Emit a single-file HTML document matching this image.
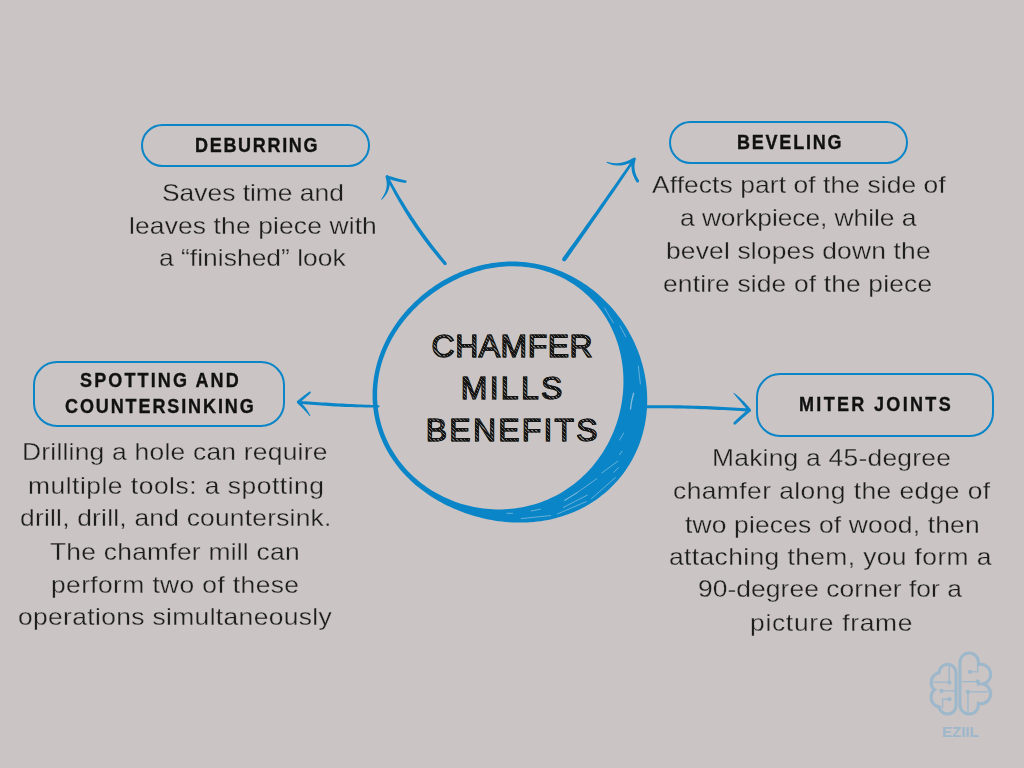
<!DOCTYPE html>
<html><head><meta charset="utf-8">
<style>
html,body{margin:0;padding:0;}
body{width:1024px;height:768px;overflow:hidden;background:#cac4c4;position:relative;font-family:"Liberation Sans",sans-serif;}
.pill{position:absolute;box-sizing:border-box;border:2px solid #0a85c8;border-radius:24px;}
.h{position:absolute;white-space:nowrap;font-weight:bold;font-size:20px;color:#111;line-height:20px;-webkit-text-stroke:0.35px #111;}
.d{position:absolute;white-space:nowrap;font-size:24px;color:#1c1c1c;line-height:24px;-webkit-text-stroke:0.3px #cac4c4;}
.t{position:absolute;white-space:nowrap;font-size:32px;line-height:32px;color:transparent;-webkit-text-stroke:1.1px #141414;background:repeating-linear-gradient(45deg,#141414 0px,#141414 1.7px,#8a8686 1.7px,#8a8686 2.7px);-webkit-background-clip:text;background-clip:text;}
svg{position:absolute;left:0;top:0;}
</style></head>
<body>
<svg width="1024" height="768" viewBox="0 0 1024 768">
  <path fill="#0a85c8" fill-rule="evenodd" d="M372.67,390.00 L372.87,386.62 L373.18,383.25 L373.58,379.89 L374.07,376.55 L374.67,373.24 L375.35,369.94 L376.13,366.67 L376.99,363.43 L377.94,360.22 L378.98,357.04 L380.10,353.89 L381.30,350.78 L382.58,347.71 L383.94,344.68 L385.37,341.69 L386.87,338.74 L388.44,335.84 L390.08,332.97 L391.79,330.16 L393.55,327.39 L395.39,324.67 L397.28,321.99 L399.23,319.37 L401.23,316.79 L403.29,314.26 L405.40,311.78 L407.57,309.35 L409.79,306.97 L412.05,304.64 L414.37,302.37 L416.73,300.14 L419.13,297.97 L421.59,295.85 L424.08,293.78 L426.62,291.77 L429.21,289.81 L431.83,287.90 L434.50,286.06 L437.21,284.27 L439.95,282.53 L442.74,280.86 L445.57,279.25 L448.43,277.69 L451.33,276.20 L454.27,274.77 L457.25,273.41 L460.25,272.12 L463.30,270.89 L466.37,269.73 L469.48,268.64 L472.62,267.62 L475.79,266.68 L478.98,265.81 L482.20,265.02 L485.45,264.31 L488.72,263.67 L492.01,263.12 L495.33,262.65 L498.66,262.26 L502.00,261.96 L505.36,261.74 L508.73,261.61 L512.11,261.57 L515.49,261.62 L518.88,261.76 L522.28,261.98 L525.67,262.30 L529.06,262.71 L532.44,263.21 L535.82,263.80 L539.18,264.48 L542.53,265.26 L545.87,266.12 L549.19,267.08 L552.48,268.12 L555.76,269.26 L559.01,270.48 L562.23,271.80 L565.42,273.20 L568.58,274.68 L571.70,276.26 L574.79,277.92 L577.84,279.66 L580.84,281.48 L583.81,283.39 L586.73,285.37 L589.60,287.43 L592.42,289.58 L595.20,291.79 L597.92,294.08 L600.58,296.45 L603.20,298.88 L605.75,301.39 L608.25,303.96 L610.68,306.61 L613.05,309.32 L615.36,312.09 L617.60,314.93 L619.78,317.82 L621.89,320.78 L623.93,323.80 L625.89,326.87 L627.78,330.01 L629.60,333.19 L631.34,336.43 L633.00,339.72 L634.57,343.05 L636.07,346.44 L637.48,349.87 L638.80,353.34 L640.04,356.86 L641.18,360.42 L642.23,364.01 L643.19,367.64 L644.05,371.30 L644.81,374.99 L645.47,378.71 L646.03,382.45 L646.48,386.22 L646.82,390.00 L647.06,393.80 L647.19,397.61 L647.21,401.43 L647.12,405.25 L646.91,409.08 L646.59,412.90 L646.15,416.72 L645.59,420.52 L644.92,424.31 L644.13,428.08 L643.22,431.83 L642.19,435.55 L641.05,439.24 L639.78,442.89 L638.41,446.50 L636.91,450.07 L635.30,453.58 L633.58,457.04 L631.75,460.45 L629.81,463.79 L627.76,467.06 L625.60,470.27 L623.34,473.40 L620.99,476.45 L618.53,479.42 L615.99,482.30 L613.35,485.10 L610.63,487.81 L607.82,490.42 L604.94,492.94 L601.98,495.36 L598.95,497.68 L595.86,499.90 L592.70,502.01 L589.49,504.02 L586.23,505.93 L582.91,507.72 L579.55,509.42 L576.15,511.00 L572.72,512.48 L569.25,513.86 L565.75,515.12 L562.24,516.29 L558.70,517.35 L555.15,518.31 L551.58,519.16 L548.01,519.92 L544.43,520.58 L540.85,521.14 L537.26,521.61 L533.69,521.99 L530.12,522.27 L526.55,522.47 L523.00,522.58 L519.46,522.61 L515.93,522.56 L512.42,522.42 L508.93,522.21 L505.45,521.93 L502.00,521.56 L498.57,521.13 L495.15,520.63 L491.76,520.06 L488.40,519.42 L485.05,518.71 L481.74,517.94 L478.44,517.11 L475.17,516.21 L471.93,515.25 L468.71,514.23 L465.52,513.15 L462.36,512.01 L459.22,510.80 L456.11,509.54 L453.03,508.22 L449.98,506.83 L446.96,505.39 L443.97,503.88 L441.02,502.31 L438.10,500.69 L435.21,499.00 L432.36,497.24 L429.54,495.43 L426.77,493.55 L424.03,491.61 L421.34,489.60 L418.70,487.53 L416.10,485.40 L413.56,483.20 L411.06,480.94 L408.63,478.61 L406.24,476.22 L403.92,473.77 L401.66,471.25 L399.47,468.67 L397.35,466.04 L395.29,463.34 L393.31,460.58 L391.41,457.77 L389.59,454.90 L387.84,451.98 L386.18,449.01 L384.61,445.99 L383.13,442.93 L381.74,439.82 L380.44,436.66 L379.23,433.48 L378.12,430.25 L377.11,426.99 L376.20,423.71 L375.39,420.40 L374.68,417.06 L374.07,413.71 L373.56,410.34 L373.16,406.96 L372.85,403.57 L372.65,400.18 L372.56,396.78 L372.56,393.39 Z M377.17,390.00 L377.37,386.74 L377.66,383.48 L378.04,380.24 L378.52,377.02 L379.09,373.82 L379.75,370.64 L380.50,367.48 L381.34,364.35 L382.26,361.25 L383.27,358.19 L384.36,355.15 L385.53,352.15 L386.77,349.20 L388.09,346.27 L389.48,343.39 L390.95,340.56 L392.48,337.76 L394.08,335.01 L395.75,332.31 L397.47,329.65 L399.26,327.04 L401.10,324.48 L403.00,321.96 L404.96,319.50 L406.97,317.08 L409.02,314.71 L411.13,312.39 L413.29,310.12 L415.49,307.90 L417.73,305.73 L420.02,303.61 L422.36,301.55 L424.73,299.53 L427.14,297.56 L429.60,295.64 L432.09,293.78 L434.62,291.97 L437.19,290.20 L439.80,288.50 L442.44,286.84 L445.12,285.24 L447.83,283.69 L450.58,282.20 L453.37,280.77 L456.18,279.39 L459.04,278.08 L461.92,276.82 L464.84,275.62 L467.78,274.49 L470.76,273.42 L473.77,272.42 L476.81,271.49 L479.88,270.63 L482.97,269.84 L486.09,269.12 L489.23,268.48 L492.39,267.91 L495.58,267.42 L498.78,267.02 L502.00,266.70 L505.24,266.46 L508.48,266.31 L511.74,266.24 L515.00,266.27 L518.27,266.38 L521.55,266.59 L524.82,266.89 L528.08,267.29 L531.34,267.78 L534.59,268.37 L537.83,269.06 L541.04,269.84 L544.24,270.72 L547.41,271.70 L550.56,272.77 L553.67,273.94 L556.75,275.21 L559.79,276.58 L562.79,278.04 L565.75,279.59 L568.65,281.23 L571.51,282.97 L574.31,284.79 L577.05,286.71 L579.73,288.70 L582.35,290.78 L584.90,292.94 L587.38,295.18 L589.79,297.49 L592.12,299.88 L594.38,302.33 L596.56,304.85 L598.67,307.44 L600.69,310.08 L602.63,312.79 L604.48,315.54 L606.25,318.35 L607.93,321.21 L609.53,324.11 L611.04,327.05 L612.46,330.02 L613.80,333.04 L615.04,336.08 L616.20,339.15 L617.27,342.25 L618.26,345.37 L619.15,348.51 L619.96,351.67 L620.68,354.84 L621.32,358.03 L621.87,361.22 L622.34,364.42 L622.73,367.62 L623.03,370.83 L623.25,374.04 L623.39,377.24 L623.45,380.44 L623.43,383.64 L623.34,386.82 L623.16,390.00 L622.92,393.17 L622.59,396.32 L622.19,399.46 L621.72,402.58 L621.17,405.69 L620.56,408.78 L619.87,411.85 L619.11,414.89 L618.28,417.92 L617.38,420.92 L616.41,423.89 L615.38,426.84 L614.27,429.76 L613.10,432.65 L611.86,435.51 L610.56,438.33 L609.19,441.13 L607.76,443.89 L606.26,446.61 L604.69,449.29 L603.07,451.94 L601.38,454.54 L599.63,457.10 L597.82,459.62 L595.95,462.09 L594.01,464.51 L592.02,466.89 L589.97,469.21 L587.87,471.49 L585.71,473.71 L583.49,475.87 L581.22,477.98 L578.89,480.03 L576.52,482.02 L574.09,483.95 L571.62,485.82 L569.09,487.62 L566.53,489.36 L563.92,491.04 L561.26,492.64 L558.57,494.18 L555.83,495.65 L553.06,497.05 L550.25,498.37 L547.41,499.63 L544.54,500.81 L541.63,501.92 L538.70,502.95 L535.74,503.91 L532.76,504.79 L529.75,505.60 L526.73,506.33 L523.68,506.98 L520.62,507.56 L517.54,508.06 L514.45,508.48 L511.35,508.83 L508.24,509.10 L505.12,509.29 L502.00,509.40 L498.87,509.44 L495.74,509.40 L492.61,509.28 L489.48,509.09 L486.36,508.82 L483.24,508.47 L480.12,508.04 L477.02,507.54 L473.92,506.96 L470.84,506.31 L467.76,505.58 L464.71,504.77 L461.67,503.89 L458.65,502.93 L455.65,501.89 L452.68,500.78 L449.72,499.60 L446.80,498.34 L443.90,497.00 L441.04,495.59 L438.20,494.11 L435.40,492.55 L432.64,490.92 L429.92,489.21 L427.24,487.43 L424.60,485.58 L422.01,483.66 L419.46,481.67 L416.97,479.60 L414.53,477.47 L412.15,475.27 L409.82,473.00 L407.56,470.66 L405.36,468.26 L403.22,465.80 L401.15,463.27 L399.16,460.68 L397.23,458.04 L395.39,455.33 L393.62,452.58 L391.93,449.77 L390.32,446.90 L388.79,444.00 L387.36,441.04 L386.01,438.05 L384.75,435.01 L383.58,431.93 L382.51,428.83 L381.52,425.69 L380.64,422.52 L379.85,419.33 L379.16,416.11 L378.57,412.88 L378.07,409.63 L377.67,406.37 L377.38,403.10 L377.18,399.82 L377.08,396.55 L377.08,393.27 Z"/>
  <g fill="none" stroke="#cfdde8" stroke-width="0.8" stroke-linecap="round" opacity="0.6">
    <path d="M604.5,308 L613.3,322.7 M620,326 L625.8,336.8 M638.3,366 L640.4,384 M623.75,433 L619.6,440 M617.9,461.1 L602,472.9 M618.4,467.6 L613.8,472.3 M596.8,478.7 Q580,491 565.1,500.4 M587.4,495.1 L563.4,507.4 M615.5,477.5 L591.5,498.6 M586.2,501.6 L557.5,513.9 M540.5,509.2 L531.1,511 M550.5,515.6 L521.2,518.6 M622,451.2 L619.6,454.7 M506.9,513.3 L512.7,513.3 M577.2,492.8 L564.3,500.4"/>
    <path d="M633.6,393.3 Q631,402 630.5,409" stroke-width="1.4"/>
  </g>
  <path fill="#0a85c8" d="M446.42,262.56 L443.61,259.18 L440.85,255.78 L438.11,252.37 L435.41,248.93 L432.74,245.48 L430.11,242.01 L427.51,238.52 L424.94,235.02 L422.41,231.49 L419.90,227.95 L417.43,224.38 L415.00,220.80 L412.59,217.20 L410.22,213.58 L407.88,209.94 L405.57,206.27 L403.30,202.59 L401.06,198.89 L398.85,195.17 L396.67,191.43 L394.52,187.67 L392.41,183.89 L390.32,180.08 L388.27,176.26 L386.13,177.34 L388.05,181.26 L390.01,185.16 L392.02,189.03 L394.07,192.88 L396.16,196.71 L398.29,200.51 L400.47,204.28 L402.69,208.04 L404.96,211.76 L407.26,215.47 L409.61,219.15 L412.00,222.80 L414.44,226.43 L416.91,230.03 L419.43,233.61 L421.99,237.16 L424.60,240.69 L427.24,244.19 L429.93,247.66 L432.66,251.11 L435.43,254.53 L438.24,257.93 L441.09,261.30 L443.98,264.64 Z M443.60,263.60 a1.60,1.60 0 1,0 3.20,0 a1.60,1.60 0 1,0 -3.20,0 Z M386.00,176.80 a1.20,1.20 0 1,0 2.40,0 a1.20,1.20 0 1,0 -2.40,0 Z M385.58,177.31 L385.86,178.23 L386.10,179.15 L386.31,180.07 L386.47,180.97 L386.59,181.88 L386.68,182.78 L386.72,183.68 L386.73,184.57 L386.69,185.47 L386.61,186.37 L386.50,187.27 L386.34,188.17 L386.14,189.08 L385.90,189.99 L385.62,190.90 L385.29,191.82 L384.91,192.75 L384.49,193.67 L384.03,194.61 L383.52,195.54 L382.96,196.49 L382.35,197.43 L381.70,198.38 L381.00,199.33 L381.60,199.87 L382.46,199.02 L383.28,198.15 L384.05,197.28 L384.77,196.39 L385.45,195.49 L386.08,194.58 L386.67,193.65 L387.20,192.71 L387.69,191.76 L388.13,190.79 L388.52,189.82 L388.86,188.83 L389.15,187.82 L389.38,186.81 L389.57,185.79 L389.70,184.76 L389.77,183.72 L389.80,182.67 L389.77,181.62 L389.69,180.56 L389.55,179.50 L389.36,178.43 L389.12,177.36 L388.82,176.29 Z M385.50,176.80 a1.70,1.70 0 1,0 3.40,0 a1.70,1.70 0 1,0 -3.40,0 Z M386.67,178.20 L387.40,178.48 L388.13,178.75 L388.86,179.01 L389.59,179.26 L390.33,179.51 L391.08,179.75 L391.82,179.99 L392.57,180.21 L393.33,180.43 L394.09,180.65 L394.85,180.85 L395.62,181.05 L396.39,181.24 L397.16,181.43 L397.94,181.60 L398.72,181.77 L399.50,181.94 L400.29,182.09 L401.08,182.24 L401.87,182.38 L402.67,182.52 L403.47,182.65 L404.28,182.77 L405.09,182.88 L405.51,180.32 L404.73,180.16 L403.96,180.00 L403.18,179.83 L402.42,179.66 L401.65,179.49 L400.89,179.31 L400.13,179.12 L399.37,178.94 L398.62,178.75 L397.87,178.55 L397.13,178.35 L396.38,178.15 L395.65,177.94 L394.91,177.73 L394.18,177.52 L393.45,177.30 L392.72,177.07 L392.00,176.85 L391.28,176.62 L390.56,176.38 L389.85,176.14 L389.14,175.90 L388.43,175.65 L387.73,175.40 Z M385.70,176.80 a1.50,1.50 0 1,0 3.00,0 a1.50,1.50 0 1,0 -3.00,0 Z M404.00,181.60 a1.30,1.30 0 1,0 2.60,0 a1.30,1.30 0 1,0 -2.60,0 Z M565.91,260.52 L568.84,256.38 L571.77,252.23 L574.69,248.08 L577.61,243.92 L580.53,239.75 L583.45,235.59 L586.36,231.41 L589.28,227.23 L592.18,223.05 L595.09,218.86 L597.99,214.67 L600.89,210.47 L603.79,206.27 L606.68,202.07 L609.58,197.85 L612.46,193.64 L615.35,189.42 L618.23,185.19 L621.11,180.96 L623.99,176.72 L626.87,172.48 L629.74,168.24 L632.61,163.99 L635.47,159.73 L633.33,158.27 L630.41,162.48 L627.48,166.69 L624.56,170.90 L621.63,175.10 L618.70,179.29 L615.77,183.48 L612.83,187.67 L609.89,191.85 L606.95,196.03 L604.00,200.20 L601.06,204.36 L598.11,208.53 L595.15,212.68 L592.20,216.83 L589.24,220.98 L586.28,225.12 L583.32,229.26 L580.35,233.39 L577.38,237.52 L574.41,241.64 L571.43,245.75 L568.46,249.87 L565.48,253.97 L562.49,258.08 Z M562.10,259.30 a2.10,2.10 0 1,0 4.20,0 a2.10,2.10 0 1,0 -4.20,0 Z M633.10,159.00 a1.30,1.30 0 1,0 2.60,0 a1.30,1.30 0 1,0 -2.60,0 Z M633.63,157.71 L632.43,158.40 L631.24,159.04 L630.06,159.63 L628.89,160.17 L627.73,160.67 L626.58,161.13 L625.44,161.53 L624.31,161.90 L623.19,162.22 L622.07,162.49 L620.97,162.72 L619.86,162.91 L618.76,163.05 L617.66,163.15 L616.57,163.20 L615.48,163.21 L614.38,163.18 L613.29,163.10 L612.19,162.97 L611.09,162.80 L609.99,162.58 L608.89,162.32 L607.78,162.00 L606.66,161.64 L606.34,162.36 L607.40,162.93 L608.49,163.44 L609.59,163.90 L610.71,164.31 L611.84,164.66 L612.99,164.95 L614.15,165.19 L615.32,165.36 L616.51,165.48 L617.71,165.55 L618.92,165.55 L620.14,165.49 L621.37,165.38 L622.60,165.20 L623.84,164.97 L625.09,164.68 L626.34,164.33 L627.59,163.92 L628.85,163.46 L630.11,162.94 L631.37,162.36 L632.64,161.72 L633.90,161.03 L635.17,160.29 Z M632.90,159.00 a1.50,1.50 0 1,0 3.00,0 a1.50,1.50 0 1,0 -3.00,0 Z M633.00,158.47 L632.66,159.42 L632.37,160.37 L632.12,161.32 L631.91,162.27 L631.74,163.23 L631.61,164.20 L631.52,165.16 L631.48,166.13 L631.48,167.10 L631.51,168.07 L631.59,169.04 L631.72,170.02 L631.88,170.99 L632.08,171.97 L632.33,172.94 L632.61,173.92 L632.94,174.89 L633.31,175.87 L633.71,176.84 L634.16,177.81 L634.64,178.79 L635.17,179.76 L635.73,180.74 L636.34,181.71 L638.86,180.09 L638.31,179.19 L637.79,178.30 L637.31,177.41 L636.86,176.52 L636.46,175.64 L636.09,174.76 L635.77,173.89 L635.48,173.02 L635.22,172.15 L635.01,171.29 L634.83,170.44 L634.68,169.58 L634.58,168.73 L634.51,167.89 L634.47,167.04 L634.48,166.20 L634.52,165.36 L634.59,164.53 L634.70,163.69 L634.85,162.86 L635.03,162.03 L635.25,161.19 L635.51,160.36 L635.80,159.53 Z M632.90,159.00 a1.50,1.50 0 1,0 3.00,0 a1.50,1.50 0 1,0 -3.00,0 Z M636.10,180.90 a1.50,1.50 0 1,0 3.00,0 a1.50,1.50 0 1,0 -3.00,0 Z M378.51,405.20 L375.19,405.08 L371.87,404.96 L368.55,404.83 L365.22,404.70 L361.90,404.56 L358.57,404.41 L355.24,404.26 L351.91,404.10 L348.58,403.94 L345.25,403.76 L341.92,403.59 L338.58,403.40 L335.25,403.21 L331.91,403.02 L328.57,402.81 L325.23,402.60 L321.88,402.39 L318.54,402.17 L315.19,401.94 L311.84,401.70 L308.49,401.46 L305.14,401.22 L301.78,400.96 L298.43,400.71 L298.17,403.49 L301.53,403.84 L304.89,404.17 L308.24,404.49 L311.60,404.78 L314.96,405.07 L318.31,405.33 L321.66,405.58 L325.02,405.82 L328.37,406.04 L331.72,406.24 L335.07,406.43 L338.42,406.60 L341.76,406.75 L345.11,406.89 L348.45,407.01 L351.80,407.12 L355.14,407.21 L358.48,407.29 L361.82,407.35 L365.15,407.39 L368.49,407.42 L371.82,407.43 L375.16,407.42 L378.49,407.40 Z M377.40,406.30 a1.10,1.10 0 1,0 2.20,0 a1.10,1.10 0 1,0 -2.20,0 Z M296.90,402.10 a1.40,1.40 0 1,0 2.80,0 a1.40,1.40 0 1,0 -2.80,0 Z M299.29,403.23 L299.70,402.85 L300.12,402.47 L300.54,402.08 L300.96,401.69 L301.39,401.30 L301.83,400.91 L302.27,400.52 L302.71,400.12 L303.16,399.72 L303.61,399.32 L304.07,398.91 L304.53,398.50 L304.99,398.09 L305.46,397.68 L305.94,397.26 L306.42,396.84 L306.90,396.42 L307.39,395.99 L307.88,395.57 L308.38,395.14 L308.88,394.70 L309.39,394.27 L309.90,393.83 L310.42,393.39 L309.18,391.81 L308.63,392.21 L308.08,392.61 L307.54,393.00 L307.00,393.40 L306.46,393.79 L305.93,394.18 L305.41,394.57 L304.89,394.96 L304.38,395.35 L303.87,395.73 L303.37,396.12 L302.87,396.50 L302.38,396.88 L301.89,397.26 L301.41,397.64 L300.93,398.01 L300.46,398.39 L300.00,398.76 L299.54,399.13 L299.08,399.51 L298.63,399.87 L298.18,400.24 L297.74,400.61 L297.31,400.97 Z M296.80,402.10 a1.50,1.50 0 1,0 3.00,0 a1.50,1.50 0 1,0 -3.00,0 Z M308.80,392.60 a1.00,1.00 0 1,0 2.00,0 a1.00,1.00 0 1,0 -2.00,0 Z M297.30,403.22 L297.84,403.70 L298.38,404.19 L298.91,404.69 L299.45,405.19 L299.98,405.69 L300.51,406.20 L301.05,406.72 L301.57,407.24 L302.10,407.76 L302.63,408.30 L303.16,408.83 L303.68,409.37 L304.21,409.92 L304.73,410.48 L305.26,411.04 L305.78,411.60 L306.30,412.17 L306.82,412.75 L307.34,413.34 L307.87,413.93 L308.39,414.53 L308.91,415.13 L309.43,415.74 L309.95,416.36 L310.45,416.04 L310.09,415.31 L309.72,414.58 L309.34,413.87 L308.96,413.16 L308.56,412.46 L308.15,411.77 L307.74,411.09 L307.31,410.42 L306.88,409.76 L306.43,409.10 L305.98,408.46 L305.52,407.83 L305.05,407.20 L304.57,406.59 L304.08,405.98 L303.58,405.38 L303.08,404.80 L302.56,404.22 L302.04,403.65 L301.51,403.10 L300.97,402.55 L300.42,402.02 L299.86,401.50 L299.30,400.98 Z M296.80,402.10 a1.50,1.50 0 1,0 3.00,0 a1.50,1.50 0 1,0 -3.00,0 Z M645.31,408.20 L649.64,408.19 L653.98,408.20 L658.31,408.22 L662.65,408.26 L666.98,408.30 L671.32,408.36 L675.65,408.44 L679.99,408.52 L684.33,408.62 L688.67,408.73 L693.01,408.86 L697.35,409.00 L701.69,409.15 L706.03,409.32 L710.37,409.50 L714.71,409.69 L719.06,409.89 L723.40,410.11 L727.75,410.34 L732.10,410.59 L736.44,410.84 L740.79,411.11 L745.14,411.40 L749.49,411.70 L749.71,408.70 L745.35,408.37 L741.00,408.06 L736.64,407.76 L732.28,407.48 L727.93,407.21 L723.57,406.96 L719.22,406.73 L714.86,406.51 L710.51,406.31 L706.16,406.12 L701.81,405.95 L697.45,405.80 L693.10,405.66 L688.75,405.54 L684.40,405.43 L680.05,405.34 L675.71,405.27 L671.36,405.21 L667.01,405.17 L662.67,405.14 L658.32,405.13 L653.98,405.14 L649.63,405.16 L645.29,405.20 Z M643.80,406.70 a1.50,1.50 0 1,0 3.00,0 a1.50,1.50 0 1,0 -3.00,0 Z M748.10,410.20 a1.50,1.50 0 1,0 3.00,0 a1.50,1.50 0 1,0 -3.00,0 Z M750.74,409.23 L749.97,408.33 L749.21,407.46 L748.46,406.60 L747.70,405.76 L746.96,404.93 L746.22,404.13 L745.48,403.34 L744.75,402.57 L744.02,401.82 L743.30,401.09 L742.59,400.38 L741.88,399.68 L741.17,399.01 L740.48,398.35 L739.78,397.71 L739.10,397.08 L738.41,396.48 L737.74,395.90 L737.07,395.33 L736.40,394.78 L735.74,394.25 L735.09,393.74 L734.45,393.25 L733.81,392.78 L733.39,393.22 L733.90,393.83 L734.41,394.45 L734.93,395.08 L735.46,395.73 L736.01,396.39 L736.56,397.05 L737.13,397.73 L737.70,398.43 L738.29,399.13 L738.89,399.85 L739.50,400.58 L740.12,401.32 L740.75,402.07 L741.40,402.84 L742.05,403.61 L742.72,404.40 L743.39,405.21 L744.08,406.02 L744.78,406.85 L745.50,407.69 L746.22,408.54 L746.95,409.40 L747.70,410.28 L748.46,411.17 Z M748.10,410.20 a1.50,1.50 0 1,0 3.00,0 a1.50,1.50 0 1,0 -3.00,0 Z M748.65,409.04 L747.83,409.71 L747.04,410.36 L746.26,411.01 L745.50,411.64 L744.75,412.27 L744.02,412.88 L743.31,413.49 L742.61,414.09 L741.94,414.67 L741.28,415.25 L740.63,415.82 L740.01,416.38 L739.40,416.92 L738.80,417.46 L738.23,417.99 L737.67,418.51 L737.13,419.02 L736.60,419.52 L736.09,420.01 L735.60,420.49 L735.13,420.96 L734.67,421.42 L734.23,421.87 L733.81,422.31 L735.79,424.29 L736.22,423.87 L736.66,423.45 L737.12,423.02 L737.60,422.58 L738.09,422.12 L738.60,421.66 L739.12,421.18 L739.67,420.69 L740.22,420.19 L740.80,419.68 L741.39,419.16 L741.99,418.62 L742.62,418.08 L743.26,417.52 L743.91,416.96 L744.59,416.38 L745.27,415.79 L745.98,415.19 L746.70,414.58 L747.44,413.96 L748.19,413.32 L748.96,412.68 L749.75,412.03 L750.55,411.36 Z M748.10,410.20 a1.50,1.50 0 1,0 3.00,0 a1.50,1.50 0 1,0 -3.00,0 Z M733.40,423.30 a1.40,1.40 0 1,0 2.80,0 a1.40,1.40 0 1,0 -2.80,0 Z"/>
</svg>
<div class="pill" style="left:141px;top:124px;width:229px;height:43px;"></div>
<div class="pill" style="left:669px;top:121px;width:239px;height:43px;"></div>
<div class="pill" style="left:33px;top:361px;width:252px;height:66px;"></div>
<div class="pill" style="left:756px;top:373px;width:238px;height:64px;"></div>
<div class="h" style="left:194.50px;top:135.07px;letter-spacing:1.875px;transform:scaleX(0.900);transform-origin:0 0">DEBURRING</div>
<div class="h" style="left:736.80px;top:131.77px;letter-spacing:1.982px;transform:scaleX(0.900);transform-origin:0 0">BEVELING</div>
<div class="h" style="left:79.60px;top:369.87px;letter-spacing:2.363px;transform:scaleX(0.900);transform-origin:0 0">SPOTTING AND</div>
<div class="h" style="left:65.00px;top:395.87px;letter-spacing:2.111px;transform:scaleX(0.900);transform-origin:0 0">COUNTERSINKING</div>
<div class="h" style="left:799.10px;top:394.07px;letter-spacing:2.596px;transform:scaleX(0.900);transform-origin:0 0">MITER JOINTS</div>
<div class="d" style="left:162.40px;top:180.78px;letter-spacing:-0.006px;transform:scaleX(1.100);transform-origin:0 0">Saves time and</div>
<div class="d" style="left:129.40px;top:213.68px;letter-spacing:0.123px;transform:scaleX(1.100);transform-origin:0 0">leaves the piece with</div>
<div class="d" style="left:158.90px;top:245.88px;letter-spacing:0.019px;transform:scaleX(1.100);transform-origin:0 0">a “finished” look</div>
<div class="d" style="left:651.90px;top:173.43px;letter-spacing:0.076px;transform:scaleX(1.100);transform-origin:0 0">Affects part of the side of</div>
<div class="d" style="left:679.50px;top:205.68px;letter-spacing:-0.064px;transform:scaleX(1.100);transform-origin:0 0">a workpiece, while a</div>
<div class="d" style="left:666.40px;top:239.08px;letter-spacing:0.152px;transform:scaleX(1.100);transform-origin:0 0">bevel slopes down the</div>
<div class="d" style="left:663.30px;top:272.18px;letter-spacing:0.136px;transform:scaleX(1.100);transform-origin:0 0">entire side of the piece</div>
<div class="d" style="left:22.40px;top:440.48px;letter-spacing:0.211px;transform:scaleX(1.100);transform-origin:0 0">Drilling a hole can require</div>
<div class="d" style="left:27.60px;top:473.68px;letter-spacing:0.460px;transform:scaleX(1.100);transform-origin:0 0">multiple tools: a spotting</div>
<div class="d" style="left:20.20px;top:506.48px;letter-spacing:0.192px;transform:scaleX(1.100);transform-origin:0 0">drill, drill, and countersink.</div>
<div class="d" style="left:50.30px;top:539.68px;letter-spacing:0.219px;transform:scaleX(1.100);transform-origin:0 0">The chamfer mill can</div>
<div class="d" style="left:50.80px;top:572.58px;letter-spacing:0.351px;transform:scaleX(1.100);transform-origin:0 0">perform two of these</div>
<div class="d" style="left:17.90px;top:604.78px;letter-spacing:0.321px;transform:scaleX(1.100);transform-origin:0 0">operations simultaneously</div>
<div class="d" style="left:712.00px;top:446.28px;letter-spacing:0.217px;transform:scaleX(1.100);transform-origin:0 0">Making a 45-degree</div>
<div class="d" style="left:672.80px;top:479.48px;letter-spacing:0.394px;transform:scaleX(1.100);transform-origin:0 0">chamfer along the edge of</div>
<div class="d" style="left:684.90px;top:512.68px;letter-spacing:0.158px;transform:scaleX(1.100);transform-origin:0 0">two pieces of wood, then</div>
<div class="d" style="left:668.90px;top:545.18px;letter-spacing:0.357px;transform:scaleX(1.100);transform-origin:0 0">attaching them, you form a</div>
<div class="d" style="left:698.10px;top:577.38px;letter-spacing:0.056px;transform:scaleX(1.100);transform-origin:0 0">90-degree corner for a</div>
<div class="d" style="left:750.20px;top:610.58px;letter-spacing:0.638px;transform:scaleX(1.100);transform-origin:0 0">picture frame</div>
<div class="t" style="left:431.60px;top:330.41px;letter-spacing:0.482px">CHAMFER</div>
<div class="t" style="left:460.70px;top:372.11px;letter-spacing:2.290px">MILLS</div>
<div class="t" style="left:425.80px;top:414.41px;letter-spacing:2.196px">BENEFITS</div>
<svg style="left:925px;top:645px" width="75" height="75" viewBox="0 0 768 768">
  <g fill="none" stroke="#9db7cb" stroke-width="62">
    <rect x="160" y="213" width="142" height="479" rx="71"/>
    <circle cx="165" cy="385" r="87"/>
    <circle cx="165" cy="535" r="87"/>
    <rect x="373" y="98" width="159" height="594" rx="79.5"/>
    <circle cx="570" cy="300" r="87"/>
    <circle cx="570" cy="500" r="87"/>
  </g>
  <g fill="#cac4c4">
    <rect x="160" y="213" width="142" height="479" rx="71"/>
    <circle cx="165" cy="385" r="87"/>
    <circle cx="165" cy="535" r="87"/>
    <rect x="373" y="98" width="159" height="594" rx="79.5"/>
    <circle cx="570" cy="300" r="87"/>
    <circle cx="570" cy="500" r="87"/>
  </g>
  <g fill="none" stroke="#9db7cb" stroke-width="14">
    <path d="M248,215 V385 M80,380 H248 M170,470 H310 M250,555 H180 V650 M460,275 H540 V200 M375,375 H540 M440,480 H650 M440,480 V690"/>
  </g>
  <g fill="#9db7cb">
    <circle cx="250" cy="385" r="22"/><circle cx="170" cy="470" r="22"/><circle cx="250" cy="555" r="22"/>
    <circle cx="460" cy="275" r="22"/><circle cx="540" cy="375" r="22"/><circle cx="440" cy="480" r="22"/>
  </g>
</svg>
<div style="position:absolute;left:942px;top:724px;font-weight:bold;font-size:15px;line-height:15px;color:#9db7cb;letter-spacing:0px;">EZIIL</div>
</body></html>
